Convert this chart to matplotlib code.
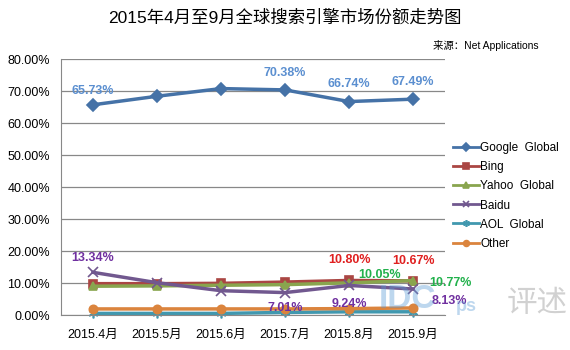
import matplotlib.pyplot as plt

plt.rcParams['font.family'] = ['Liberation Sans', 'Noto Sans CJK SC']

months = ["2015.4月", "2015.5月", "2015.6月", "2015.7月", "2015.8月", "2015.9月"]
google = [65.73, 68.4, 70.8, 70.38, 66.74, 67.49]
bing = [9.8, 9.8, 9.9, 10.3, 10.80, 10.67]
yahoo = [9.0, 9.1, 9.3, 9.5, 10.05, 10.77]
baidu = [13.34, 10.1, 7.6, 7.01, 9.24, 8.13]
aol = [0.5, 0.5, 0.5, 0.8, 1.0, 1.0]
other = [1.9, 1.9, 1.9, 1.9, 2.0, 2.2]

series = [
    ("Google  Global", google, "#4572A7", "D", 6),
    ("Bing", bing, "#AA4643", "s", 6),
    ("Yahoo  Global", yahoo, "#89A54E", "^", 6),
    ("Baidu", baidu, "#71588F", "x", 7),
    ("AOL  Global", aol, "#4198AF", (6, 2, 0), 7),
    ("Other", other, "#DB843D", "o", 6),
]

fig = plt.figure(figsize=(5.7, 3.5), dpi=100)
ax = fig.add_axes([0.107, 0.1, 0.674, 0.731])
x = list(range(len(months)))

for name, vals, color, marker, ms in series:
    ax.plot(x, vals, color=color, lw=2.5, marker=marker, markersize=ms,
            markeredgecolor=color, markeredgewidth=1.2, label=name, clip_on=False)

ax.set_xlim(-0.5, len(months) - 0.5)
ax.set_ylim(0, 80)
ax.set_yticks(range(0, 81, 10))
ax.set_yticklabels(["%.2f%%" % v for v in range(0, 81, 10)], fontsize=9)
ax.set_xticks(x)
ax.set_xticklabels(months, fontsize=9)
ax.tick_params(length=0, pad=10)
ax.tick_params(axis="y", pad=8)
ax.grid(axis="y", color="#888888", lw=0.9)
ax.set_axisbelow(True)
for s in ["top", "right"]:
    ax.spines[s].set_visible(False)
ax.spines["left"].set_color("#888888")
ax.spines["bottom"].set_color("#888888")

def lab(i, vals, text, color, dx, dy):
    ax.annotate(text, (i, vals[i]), xytext=(dx, dy), textcoords="offset points",
                ha="center", va="center", color=color, fontsize=9, fontweight="bold")

gc = "#5B8FD0"
lab(0, google, "65.73%", gc, 0, 10)
lab(3, google, "70.38%", gc, 0, 12)
lab(4, google, "66.74%", gc, 0, 13)
lab(5, google, "67.49%", gc, 0, 12)
rc = "#E02020"
lab(4, bing, "10.80%", rc, 0, 15)
lab(5, bing, "10.67%", rc, 0, 14)
yc = "#22B14C"
lab(4, yahoo, "10.05%", yc, 22, 6)
lab(5, yahoo, "10.77%", yc, 27, -2)
pc = "#7030A0"
lab(0, baidu, "13.34%", pc, 0, 10)
lab(3, baidu, "7.01%", pc, 0, -11)
lab(4, baidu, "9.24%", pc, 0, -13)
lab(5, baidu, "8.13%", pc, 26, -9)

leg = fig.legend(loc="center left", bbox_to_anchor=(0.795, 0.44), frameon=False,
                 fontsize=8.5, handlelength=2.2, labelspacing=0.6, handletextpad=0.1,
                 borderaxespad=0, borderpad=0, markerscale=0.7)
for l in leg.get_lines():
    l.set_linewidth(2)

# watermark
fig.text(0.665, 0.1, "IDC", fontsize=24, fontweight="bold", color="#5B9BD5",
         alpha=0.4, va="bottom")
fig.text(0.8, 0.1, "ps", fontsize=13, fontweight="bold", color="#5B9BD5",
         alpha=0.4, va="bottom")
fig.text(0.995, 0.13, "评述", fontsize=22, color="#999999", alpha=0.45,
         ha="right", va="center")

fig.text(0.5, 0.951, "2015年4月至9月全球搜索引擎市场份额走势图", ha="center",
         va="center", fontsize=12.5)
fig.text(0.945, 0.871, "来源：Net Applications", ha="right", va="center", fontsize=7.5)

fig.savefig("out.png", dpi=100)
